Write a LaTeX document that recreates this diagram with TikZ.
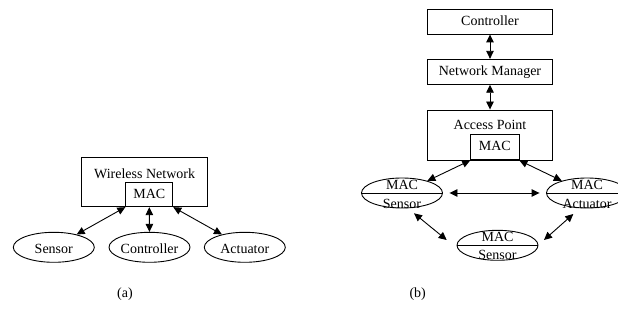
\documentclass[tikz,border=0pt]{standalone}
\usepackage{fontspec}
\setmainfont{Liberation Serif}
\usetikzlibrary{arrows.meta,shapes.geometric,calc}
\tikzset{
  box/.style={draw, line width=0.9pt, inner sep=0pt, minimum width=#1},
  oval/.style={draw, line width=0.9pt, ellipse, inner sep=0pt, minimum width=81pt, minimum height=30pt},
  txt/.style={inner sep=0pt, anchor=base, font=\fontsize{14}{16}\selectfont},
  conn/.style={line width=0.9pt, {Triangle[length=8pt,width=7.5pt]}-{Triangle[length=8pt,width=7.5pt]}},
}
\begin{document}
\begin{tikzpicture}[x=1pt,y=-1pt]
\useasboundingbox (0,0) rectangle (618,328);
\clip (0,0) rectangle (618,328);
% ---------- (a) ----------
\node[box=126pt, minimum height=49.4pt] (wn) at (144.6,182) {};
\node[txt] (wnl) at (144.6,178.3) {Wireless Network};
\node[box=47pt, minimum height=24.4pt] (maca) at (149.3,194.5) {};
\node[txt] (macal) at (149.3,198.3) {MAC};
\node[oval] (sen) at (53.8,247.3) {};
\node[txt] (senl) at (53.8,253.3) {Sensor};
\node[oval] (ctl) at (149.5,247.3) {};
\node[txt] (ctll) at (149.5,253.3) {Controller};
\node[oval] (act) at (244.8,247.3) {};
\node[txt] (actl) at (244.8,253.3) {Actuator};
\draw[conn] (maca.south west) -- (sen);
\draw[conn] (maca.south) -- (ctl.north);
\draw[conn] (maca.south east) -- (act);
\node[txt] (la) at (125,298) {(a)};
% ---------- (b) ----------
\node[box=125.4pt, minimum height=25pt] (ctrl) at (490,21.5) {};
\node[txt] (ctrll) at (490,26) {Controller};
\node[box=125.4pt, minimum height=25pt] (nm) at (490,71.8) {};
\node[txt] (nml) at (490,76) {Network Manager};
\node[box=125.4pt, minimum height=50pt] (ap) at (490,135) {};
\node[txt] (apl) at (490,130) {Access Point};
\node[box=48.3pt, minimum height=25.7pt] (macb) at (494.8,147.1) {};
\node[txt] (macbl) at (494.8,150.7) {MAC};
\draw[conn] (ctrl) -- (nm);
\draw[conn] (nm) -- (ap);
% split ellipses
\node[oval] (s1) at (402,193) {};
\draw[line width=0.9pt] (s1.west) -- (s1.east);
\node[txt] (s1a) at (402,189.3) {MAC};
\node[txt] (s1b) at (402,208.3) {Sensor};
\node[oval] (a1) at (587,193) {};
\draw[line width=0.9pt] (a1.west) -- (a1.east);
\node[txt] (a1a) at (587,189.3) {MAC};
\node[txt] (a1b) at (587,208.3) {Actuator};
\node[oval] (s2) at (497.5,245.3) {};
\draw[line width=0.9pt] (s2.west) -- (s2.east);
\node[txt] (s2a) at (497.5,241.7) {MAC};
\node[txt] (s2b) at (497.5,260) {Sensor};
\draw[conn] (macb.south west) -- (s1);
\draw[conn] (macb.south east) -- (a1);
\draw[conn, shorten <=6.5pt, shorten >=6.5pt] (s1.east) -- (a1.west);
\draw[conn] ($(s1.center)+(12,20.3)$) -- ($(s2.center)+(-50.8,-5.3)$);
\draw[conn] ($(a1.center)+(-13.7,21)$) -- ($(s2.center)+(46.5,-5.3)$);
\node[txt] (lb) at (417.7,298) {(b)};
\end{tikzpicture}
\end{document}
